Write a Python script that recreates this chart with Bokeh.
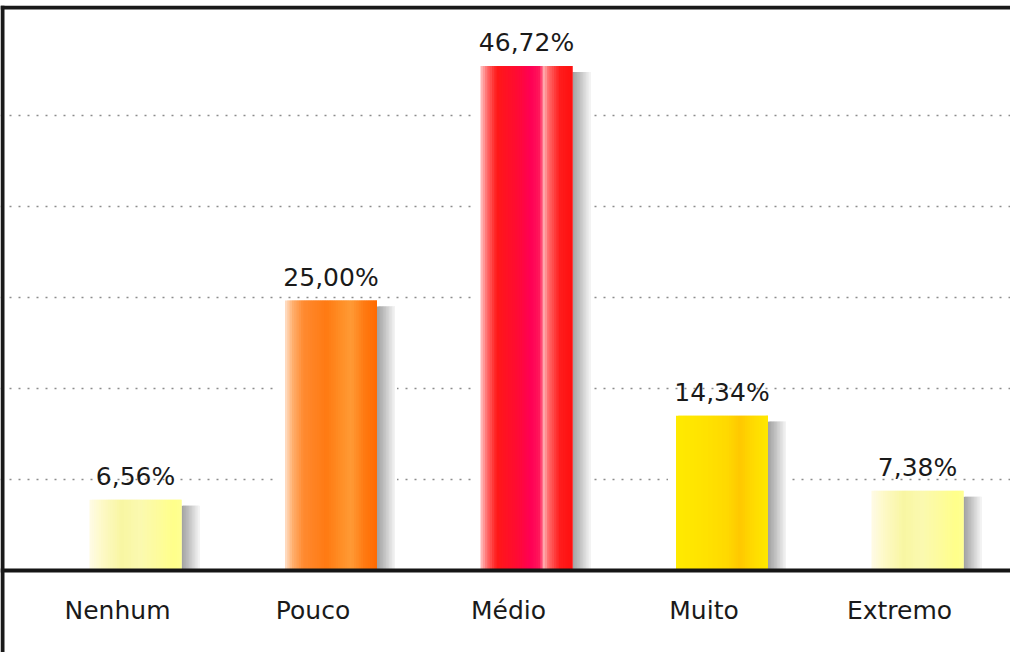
import numpy as np
from bokeh.plotting import figure
from bokeh.models import Range1d, ColumnDataSource, FixedTicker, Grid
from bokeh.core.properties import value
from bokeh.embed import file_html
from bokeh.resources import INLINE

# ---------------- data ----------------
categories = ["Nenhum", "Pouco", "Médio", "Muito", "Extremo"]
percentages = [6.56, 25.00, 46.72, 14.34, 7.38]
grid_ticks = [8.43, 16.86, 25.29, 33.72, 42.15]

# horizontal colour profiles (left -> right) for each bar
pale = [(0.0, "#fffbe6"), (0.15, "#fdf9c4"), (0.35, "#f8f6a2"), (0.55, "#fbf9b0"),
        (0.75, "#fdfc9c"), (0.92, "#ffff8a"), (1.0, "#ffff94")]
orange = [(0.0, "#ffe2cc"), (0.08, "#ffb070"), (0.2, "#ff8a30"), (0.45, "#ff7a12"),
          (0.62, "#ff9028"), (0.72, "#ff9a36"), (0.86, "#ff7a12"), (1.0, "#ff6a00")]
red = [(0.0, "#ffc4c4"), (0.08, "#ff6464"), (0.18, "#ff1818"), (0.38, "#ff0c30"),
       (0.55, "#ff0056"), (0.65, "#ff1a5a"), (0.69, "#ffb0b0"), (0.74, "#ff6a6a"),
       (0.86, "#ff1c1c"), (1.0, "#ff1010")]
yellow = [(0.0, "#ffea00"), (0.3, "#ffe300"), (0.55, "#ffd900"), (0.7, "#ffc800"),
          (0.82, "#ffd900"), (1.0, "#ffe800")]
bar_profiles = [pale, orange, red, yellow, pale]
shadow_profile = [(0.0, "#a0a0a0"), (0.4, "#c0c0c0"), (1.0, "#f6f6f6")]

# ---------------- geometry (pixel scale) ----------------
SX = 195.5   # px per category
SY = 10.8    # px per percent
W, H = 1010, 652
TOP = 5
x_start = (8 - 143) / SX
x_end = x_start + W / SX
y_end = (578 - 13) / SY
y_start = y_end - (H - TOP) / SY

bar_w = 92 / SX
N = 40


def hex2rgb(h):
    h = h.lstrip("#")
    return np.array([int(h[i:i + 2], 16) for i in (0, 2, 4)], dtype=float)


def interp(profile, t):
    pos = [p for p, _ in profile]
    cols = [hex2rgb(c) for _, c in profile]
    for k in range(len(pos) - 1):
        if pos[k] <= t <= pos[k + 1]:
            f = (t - pos[k]) / (pos[k + 1] - pos[k]) if pos[k + 1] > pos[k] else 0
            c = cols[k] + (cols[k + 1] - cols[k]) * f
            return "#%02x%02x%02x" % tuple(int(round(v)) for v in c)
    return profile[-1][1]


xs = np.arange(len(categories))

halo = dict(left=[], right=[], bottom=[], top=[])
strips = dict(left=[], right=[], bottom=[], top=[], color=[])
shadows = dict(left=[], right=[], bottom=[], top=[], color=[])

for i, (x, v) in enumerate(zip(xs, percentages)):
    l = x - bar_w / 2
    r = x + bar_w / 2
    halo["left"].append(l - 8 / SX)
    halo["right"].append(r + 20 / SX)
    halo["bottom"].append(0)
    halo["top"].append(v + 1 / SY)
    dw = bar_w / N
    for k in range(N):
        t = (k + 0.5) / N
        strips["left"].append(l + k * dw)
        strips["right"].append(l + (k + 1) * dw + (dw if k < N - 1 else 0))
        strips["bottom"].append(0)
        strips["top"].append(v)
        strips["color"].append(interp(bar_profiles[i], t))
    sw = 18 / SX
    M = 12
    for k in range(M):
        t = (k + 0.5) / M
        shadows["left"].append(r + k * sw / M)
        shadows["right"].append(r + (k + 1) * sw / M + (sw / M if k < M - 1 else 0))
        shadows["bottom"].append(0)
        shadows["top"].append(v - 6 / SY)
        shadows["color"].append(interp(shadow_profile, t))

p = figure(width=W, height=H, output_backend="svg", toolbar_location=None,
           x_range=Range1d(x_start, x_end), y_range=Range1d(y_start, y_end),
           x_axis_type=None, y_axis_type=None, min_border_left=0,
           min_border_right=0, min_border_bottom=0, min_border_top=TOP,
           background_fill_color="white", border_fill_color="white",
           outline_line_color=None)

grid = Grid(dimension=1, ticker=FixedTicker(ticks=grid_ticks),
            grid_line_color="#8c8c8c", grid_line_dash="2 7", grid_line_width=1.5)
p.add_layout(grid)

p.quad(left="left", right="right", bottom="bottom", top="top",
       source=ColumnDataSource(halo), fill_color="white", line_color=None)
p.quad(left="left", right="right", bottom="bottom", top="top",
       source=ColumnDataSource(shadows), fill_color="color", line_color=None)
p.quad(left="left", right="right", bottom="bottom", top="top",
       source=ColumnDataSource(strips), fill_color="color", line_color=None)

labels = ["%s%%" % ("%.2f" % v).replace(".", ",") for v in percentages]
p.text(x=xs, y=percentages, text=labels, text_align="center",
       text_baseline="alphabetic", y_offset=-23,
       text_font=value("DejaVu Sans"), text_font_size="25px", text_color="#1a1a1a")
p.text(x=xs, y=[0] * len(xs), text=categories, text_align="center",
       text_baseline="alphabetic", y_offset=40, x_offset=-18,
       text_font=value("DejaVu Sans"), text_font_size="25px", text_color="#1a1a1a")

# baseline (y = 0) and the frame's top / left borders
p.hspan(y=[0], line_color="#151515", line_width=4)
p.hspan(y=[y_end - 2 / SY], line_color="#1a1a1a", line_width=4)
p.vspan(x=[x_start + 2 / SX], line_color="#1a1a1a", line_width=4)

open("out.html", "w").write(file_html(p, INLINE))
